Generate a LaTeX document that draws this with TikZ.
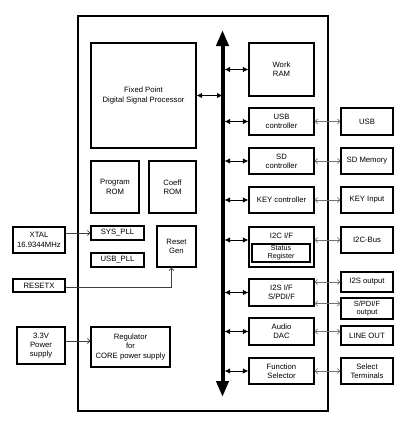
\documentclass[tikz,border=0pt]{standalone}
\usepackage{fontspec}
\setmainfont{Liberation Sans}
\usepackage{tikz}
\usetikzlibrary{positioning, arrows.meta}

\begin{document}
\begin{tikzpicture}[x=1pt, y=-1pt, font=\fontsize{7.7}{9.3}\selectfont,
  main node/.style={draw, line width=1.1pt, inner sep=0pt, align=center},
  bus link/.style={line width=1pt, {Latex[length=5.5pt,width=5.5pt]}-{Latex[length=5.5pt,width=5.5pt]}},
  io link/.style={line width=0.7pt, black!55, {Straight Barb[length=2.5pt,width=5pt]}-{Straight Barb[length=2.5pt,width=5pt]}},
  in link/.style={line width=0.7pt, black!75, -{Straight Barb[length=2.5pt,width=5pt]}}]

\useasboundingbox (0,0) rectangle (403,445);

% chip outline and bus
\draw[line width=2pt] (78,16) rectangle (328,411);
\coordinate (bustop) at (222.5,30);
\coordinate (busbot) at (222.5,397);
\coordinate (busedge) at (224.5,30);
\draw[line width=4pt, {Triangle[length=16pt,width=12pt]}-{Triangle[length=16pt,width=12pt]}] (bustop) -- (busbot);

% left part of the chip
\node[main node, minimum width=105, minimum height=105] (dsp) at (143.5,95.5) {Fixed Point\\Digital Signal Processor};
\node[main node, minimum width=48, minimum height=52] (prom) at (115,187) {Program\\ROM};
\node[main node, minimum width=47, minimum height=52] (crom) at (172.5,187) {Coeff\\ROM};
\node[main node, minimum width=53, minimum height=14] (syspll) at (117.5,233) {SYS\_PLL};
\node[main node, minimum width=53, minimum height=14] (usbpll) at (117.5,260) {USB\_PLL};
\node[main node, minimum width=39, minimum height=41] (rstgen) at (176.5,246.5) {Reset\\Gen};
\node[main node, minimum width=79, minimum height=40] (reg) at (130.5,347) {Regulator\\for\\CORE power supply};

% outside, left
\node[main node, minimum width=52, minimum height=26] (xtal) at (39,240) {XTAL\\16.9344MHz};
\node[main node, minimum width=52, minimum height=13] (resetx) at (39,285.5) {RESETX};
\node[main node, minimum width=48, minimum height=37] (pwr) at (41,345.5) {3.3V\\Power\\supply};

% right part of the chip
\node[main node, minimum width=65, minimum height=53] (wram) at (281.5,69.5) {Work\\RAM};
\node[main node, minimum width=65, minimum height=27] (usbc) at (281.5,121.5) {USB\\controller};
\node[main node, minimum width=65, minimum height=26] (sdc) at (281.5,161) {SD\\controller};
\node[main node, minimum width=65, minimum height=26] (keyc) at (281.5,200) {KEY controller};
\node[main node, minimum width=65, minimum height=40] (i2c) at (281.5,247) {};
\node (i2clbl) at (281.5,236) {I2C I/F};
\node[main node, minimum width=58, minimum height=18, font=\fontsize{7.2}{7.8}\selectfont] (stat) at (281,253) {Status\\Register};
\node[main node, minimum width=65, minimum height=27] (i2s) at (281.5,292.5) {I2S I/F\\S/PDI/F};
\node[main node, minimum width=65, minimum height=27] (dac) at (281.5,331.5) {Audio\\DAC};
\node[main node, minimum width=65, minimum height=26] (fsel) at (281.5,371) {Function\\Selector};

% outside, right
\node[main node, minimum width=52, minimum height=27] (usb) at (367,121.5) {USB};
\node[main node, minimum width=52, minimum height=26] (sdm) at (367,161) {SD Memory};
\node[main node, minimum width=52, minimum height=26] (keyin) at (367,200) {KEY Input};
\node[main node, minimum width=52, minimum height=26] (i2cbus) at (367,240) {I2C-Bus};
\node[main node, minimum width=52, minimum height=20] (i2sout) at (367,282) {I2S output};
\node[main node, minimum width=52, minimum height=21, font=\fontsize{7.5}{8.5}\selectfont] (spdif) at (367,308.5) {S/PDI/F\\output};
\node[main node, minimum width=52, minimum height=19] (lineout) at (367,335.5) {LINE OUT};
\node[main node, minimum width=52, minimum height=26] (selterm) at (367,371) {Select\\Terminals};

% bus connections
\draw[bus link] (dsp.east) -- (dsp.east -| bustop);
\draw[bus link] (wram.west -| busedge) -- (wram.west);
\draw[bus link] (usbc.west -| busedge) -- (usbc.west);
\draw[bus link] (sdc.west -| busedge) -- (sdc.west);
\draw[bus link] (keyc.west -| busedge) -- (keyc.west);
\draw[bus link] (i2cbus.west -| busedge) -- (i2cbus.west -| i2c.west);
\draw[bus link] (i2s.west -| busedge) -- (i2s.west);
\draw[bus link] (dac.west -| busedge) -- (dac.west);
\draw[bus link] (fsel.west -| busedge) -- (fsel.west);

% external signals
\path[io link]
(usbc) edge (usb)
(sdc) edge (sdm)
(keyc) edge (keyin)
(fsel) edge (selterm)
;
\draw[io link] (i2c.east |- i2cbus.west) -- (i2cbus.west);
\draw[io link] (i2s.east |- i2sout.west) -- (i2sout.west);
\draw[io link] ([yshift=5pt]i2s.east |- spdif.west) -- ([yshift=5pt]spdif.west);
\draw[io link] (dac.east) -- (lineout.west |- dac.east);

\draw[in link] (xtal.east |- syspll.west) -- (syspll.west);
\draw[in link] (resetx.east |- 0,287) -| ([xshift=-5pt]rstgen.south);
\draw[in link] (pwr.east |- 0,341) -- (reg.west |- 0,341);

\end{tikzpicture}
\end{document}
